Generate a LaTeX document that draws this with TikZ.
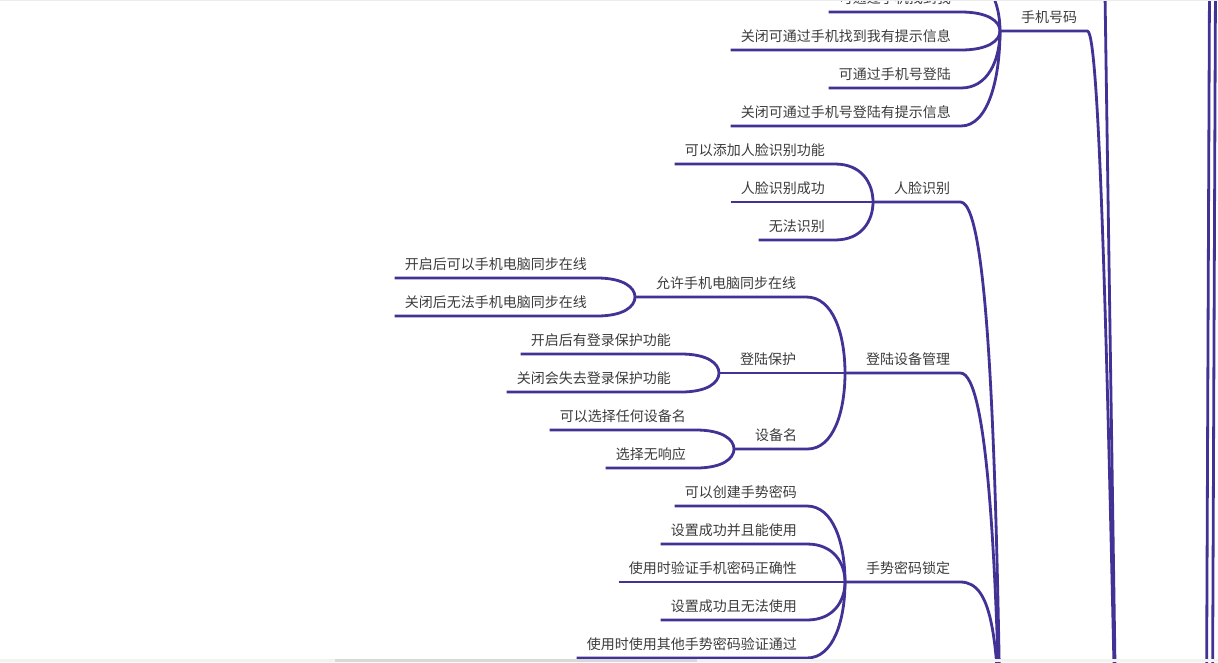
\documentclass[tikz,border=0pt]{standalone}
\usepackage{fontspec}
\newfontfamily\cjk{Noto Sans CJK SC}
\usetikzlibrary{calc}
\definecolor{lnc}{RGB}{66,50,150}
\definecolor{txc}{RGB}{60,60,60}
\begin{document}
\begin{tikzpicture}[x=1pt,y=-1pt,
  every node/.style={font=\cjk\fontsize{14}{16}\selectfont, text=txc, inner ysep=0pt, text depth=8pt, text height=11pt},
  mmleaf/.style={inner xsep=10pt, anchor=south east},
  mmtopic/.style={inner xsep=10pt, anchor=south west},
  mmline/.style={draw=lnc, line width=2.8pt, line join=round},
  mmcurve/.style={to path={.. controls ($(\tikztostart)!0.7!(\tikztostart -| \tikztotarget)$) and ($(\tikztotarget)!0.5!(\tikztotarget |- \tikztostart)$) .. (\tikztotarget)}}
]
\useasboundingbox (0,0) rectangle (1218,662);
\fill[white] (0,0) rectangle (1218,662);
\clip (0,0) rectangle (1218,662);

% junctions and off-screen parents
\coordinate (jA) at (1000,31);
\coordinate (jB) at (873,202);
\coordinate (jC) at (845,373);
\coordinate (jC1) at (635,297);
\coordinate (jC2) at (719,373);
\coordinate (jC3) at (734,449);
\coordinate (jD) at (845,582);
\coordinate (P1) at (1117,800);
\coordinate (P2) at (1001,780);
\coordinate (hA) at (961,-26);
\coordinate (T1) at (1104.5,-40);
\coordinate (R1a) at (1209.6,-40);
\coordinate (R1b) at (1206.4,720);
\coordinate (R2a) at (1215.6,-40);
\coordinate (R2b) at (1212.4,720);

% group A
\node[mmleaf] (a0) at (961,12) {可通过手机找到我};
\node[mmleaf] (a1) at (961,50) {关闭可通过手机找到我有提示信息};
\node[mmleaf] (a2) at (961,88) {可通过手机号登陆};
\node[mmleaf] (a3) at (961,126) {关闭可通过手机号登陆有提示信息};
\node[mmtopic] (A) at (1011,31) {手机号码};

% group B
\node[mmleaf] (b1) at (835,164) {可以添加人脸识别功能};
\node[mmleaf] (b2) at (835,202) {人脸识别成功};
\node[mmleaf] (b3) at (835,240) {无法识别};
\node[mmtopic] (B) at (884,202) {人脸识别};

% group C
\node[mmleaf] (c11) at (597,278) {开启后可以手机电脑同步在线};
\node[mmleaf] (c12) at (597,316) {关闭后无法手机电脑同步在线};
\node[mmtopic] (C1) at (646,297) {允许手机电脑同步在线};
\node[mmleaf] (c21) at (681,354) {开启后有登录保护功能};
\node[mmleaf] (c22) at (681,392) {关闭会失去登录保护功能};
\node[mmtopic] (C2) at (730,373) {登陆保护};
\node[mmleaf] (c31) at (696,430) {可以选择任何设备名};
\node[mmleaf] (c32) at (696,468) {选择无响应};
\node[mmtopic] (C3) at (745,449) {设备名};
\node[mmtopic] (C) at (856,373) {登陆设备管理};

% group D
\node[mmleaf] (d1) at (807,506) {可以创建手势密码};
\node[mmleaf] (d2) at (807,544) {设置成功并且能使用};
\node[mmleaf] (d3) at (807,582) {使用时验证手机密码正确性};
\node[mmleaf] (d4) at (807,620) {设置成功且无法使用};
\node[mmleaf] (d5) at (807,658) {使用时使用其他手势密码验证通过};
\node[mmtopic] (D) at (856,582) {手势密码锁定};

% connectors
\foreach \n/\j in {a1/jA,a2/jA,a3/jA,a0/jA,b1/jB,b2/jB,b3/jB,c11/jC1,c12/jC1,c21/jC2,c22/jC2,c31/jC3,c32/jC3,d1/jD,d2/jD,d3/jD,d4/jD,d5/jD}
  \draw[mmline] (\n.south west) -- (\n.south east) to[mmcurve] (\j);
\draw[mmline] (hA) to[mmcurve] (jA);
\foreach \n/\j in {C1/jC1,C2/jC2,C3/jC3}
  \draw[mmline] (\j) -- (\n.south east) to[mmcurve] (jC);
\draw[mmline] (jA) -- (A.south east) .. controls +(13,0) and +(-9,-400) .. (P1);
\draw[mmline] (jB) -- (B.south east) .. controls +(30,0) and +(-4,-289) .. (P2);
\draw[mmline] (jC) -- (C.south east) .. controls +(28,0) and +(-4,-204) .. (P2);
\draw[mmline] (jD) -- (D.south east) .. controls +(33,0) and +(-2,-140) .. (P2);
\draw[mmline] (T1) -- (P1);
\draw[mmline] (R1a) -- (R1b);
\draw[mmline] (R2a) -- (R2b);

% window frame
\fill[gray!15] (0,0) rectangle (1218,1.2);
\fill[gray!10] (0,658.5) rectangle (1218,662);
\fill[gray!30] (335,659.2) rectangle (697,662);
\end{tikzpicture}
\end{document}
